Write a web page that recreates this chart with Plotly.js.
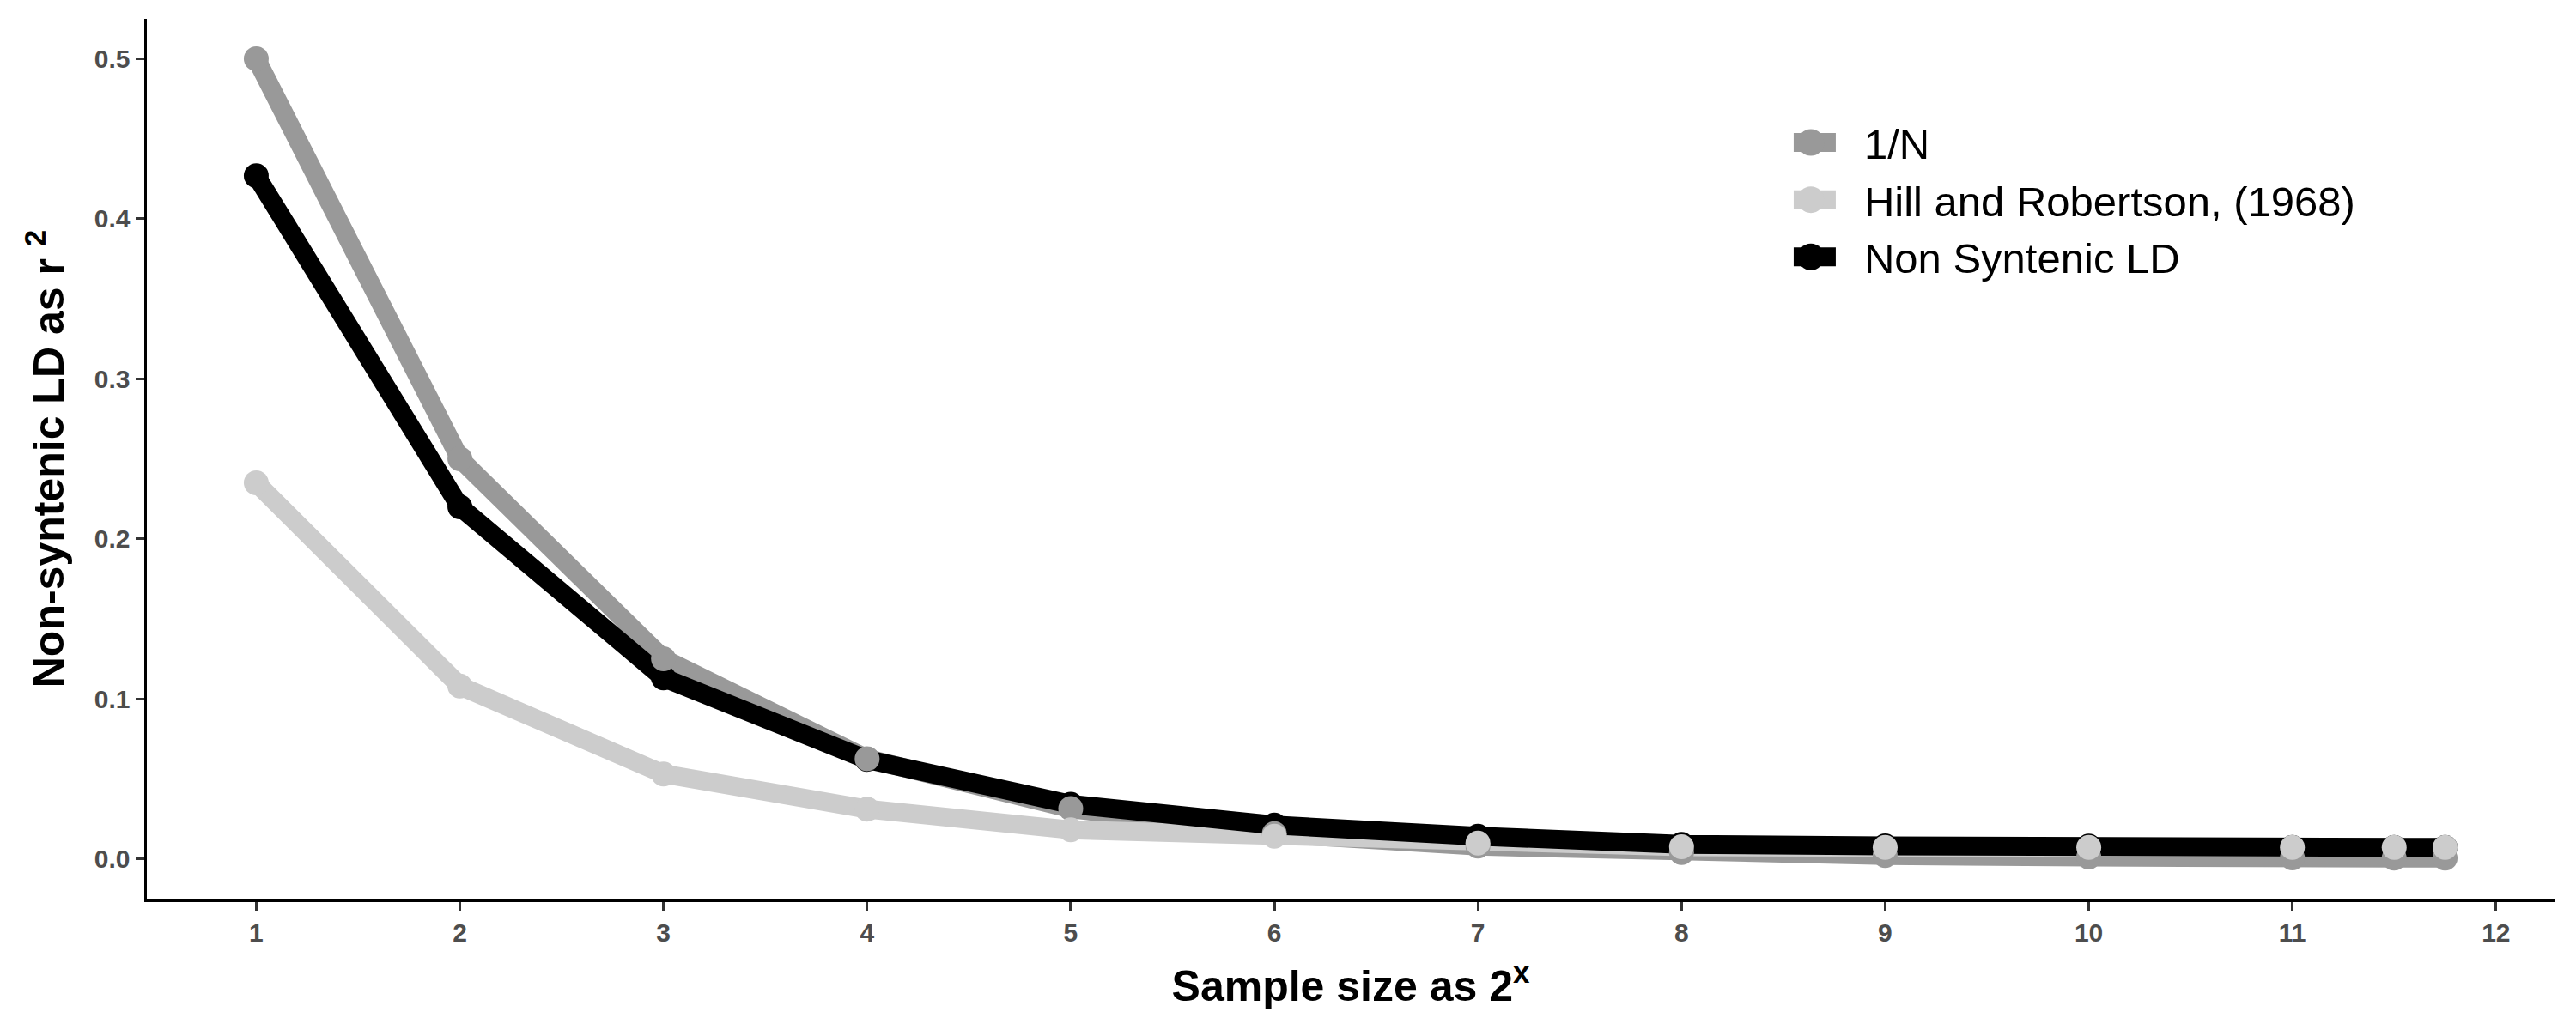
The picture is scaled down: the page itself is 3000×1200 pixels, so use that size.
<!DOCTYPE html>
<html>
<head>
<meta charset="utf-8">
<script src="https://cdn.plot.ly/plotly-3.0.1.min.js"></script>
<style>html,body{margin:0;padding:0;background:#fff;}#chart{width:3000px;height:1200px;}</style>
</head>
<body>
<div id="chart"></div>
<script>
// Sample size exponent (sample size = 2^x)
const sampleExp = [1, 2, 3, 4, 5, 6, 7, 8, 9, 10, 11, 11.5, 11.75];

// Series values
const inverseN = [0.5, 0.25, 0.125, 0.0625, 0.0313, 0.0156, 0.0078, 0.0039, 0.002, 0.001, 0.0005, 0.0004, 0.0003];
const hillRobertson = [0.235, 0.108, 0.053, 0.031, 0.018, 0.014, 0.0097, 0.0075, 0.007, 0.007, 0.007, 0.007, 0.007];
const nonSyntenic = [0.427, 0.220, 0.113, 0.062, 0.034, 0.021, 0.014, 0.009, 0.008, 0.0078, 0.007, 0.007, 0.007];

const seriesNames = ["1/N", "Hill and Robertson, (1968)", "Non Syntenic LD"];
const xTickVals = [1, 2, 3, 4, 5, 6, 7, 8, 9, 10, 11, 12];
const yTickVals = [0, 0.1, 0.2, 0.3, 0.4, 0.5];
const yTickText = ["0.0", "0.1", "0.2", "0.3", "0.4", "0.5"];

const colors = {"1/N": "#999999", "Hill and Robertson, (1968)": "#CCCCCC", "Non Syntenic LD": "#000000"};
const seriesData = {"1/N": inverseN, "Hill and Robertson, (1968)": hillRobertson, "Non Syntenic LD": nonSyntenic};

const LW = 22, MS = 29;
const traces = [];
// lines first (gray, light, black)
seriesNames.forEach(n => traces.push({
  type: "scatter", mode: "lines", x: sampleExp, y: seriesData[n],
  line: {color: colors[n], width: LW}, showlegend: false, hoverinfo: "skip"
}));
// points on top (black, gray, light)
["Non Syntenic LD", "1/N", "Hill and Robertson, (1968)"].forEach(n => traces.push({
  type: "scatter", mode: "markers", x: sampleExp, y: seriesData[n],
  marker: {color: colors[n], size: MS}, showlegend: false
}));
// legend entries
seriesNames.forEach(n => traces.push({
  type: "scatter", mode: "lines+markers", x: [null], y: [null], name: n,
  line: {color: colors[n], width: LW}, marker: {color: colors[n], size: MS}, showlegend: true
}));

const FONT = "Liberation Sans, Arial, sans-serif";
const layout = {
  width: 3000, height: 1200,
  margin: {l: 171, r: 25, t: 22, b: 153},
  paper_bgcolor: "#ffffff", plot_bgcolor: "#ffffff",
  font: {family: FONT},
  showlegend: true,
  legend: {
    x: 0.684, y: 0.897, xanchor: "left", yanchor: "top",
    font: {family: FONT, size: 49, color: "#000000"},
    bgcolor: "rgba(0,0,0,0)", traceorder: "normal", itemwidth: 72
  },
  xaxis: {
    range: [0.4625, 12.2875], tickvals: xTickVals, ticktext: xTickVals.map(String),
    showgrid: false, zeroline: false, showline: true, linecolor: "#000000", linewidth: 3.5,
    ticks: "outside", ticklen: 10, tickwidth: 3, tickcolor: "#333333",
    tickfont: {family: FONT, size: 30, color: "#4D4D4D", weight: "bold"},
    title: {text: "Sample size as 2<sup>x</sup>", font: {family: FONT, size: 50, color: "#000000", weight: "bold"}, standoff: 30}
  },
  yaxis: {
    range: [-0.025, 0.525], tickvals: yTickVals, ticktext: yTickText,
    showgrid: false, zeroline: false, showline: true, linecolor: "#000000", linewidth: 3.5,
    ticks: "outside", ticklen: 10, tickwidth: 3, tickcolor: "#333333",
    tickfont: {family: FONT, size: 30, color: "#4D4D4D", weight: "bold"},
    title: {text: "Non-syntenic LD as r <sup>2</sup>", font: {family: FONT, size: 50, color: "#000000", weight: "bold"}, standoff: 20}
  }
};

// enlarge legend keys (Plotly caps legend line width / marker size)
function styleLegendKeys() {
  document.querySelectorAll("#chart .legend .traces").forEach(function (g) {
    const txt = g.querySelector("text.legendtext");
    if (!txt) return;
    const tx = parseFloat(txt.getAttribute("x")) || 0;
    const cx = tx - 62;
    g.querySelectorAll(".legendlines path").forEach(function (p) {
      p.setAttribute("d", "M" + (cx - 29) + ",0h58");
      p.style.strokeWidth = LW + "px";
      p.style.strokeLinecap = "butt";
    });
    g.querySelectorAll(".legendpoints path").forEach(function (p) {
      p.setAttribute("transform", "translate(" + cx + ",0)");
      p.setAttribute("d", "M15.5,0A15.5,15.5 0 1,1 0,-15.5A15.5,15.5 0 0,1 15.5,0Z");
    });
  });
}

Plotly.newPlot("chart", traces, layout, {displayModeBar: false, staticPlot: true}).then(styleLegendKeys);
</script>
</body>
</html>
